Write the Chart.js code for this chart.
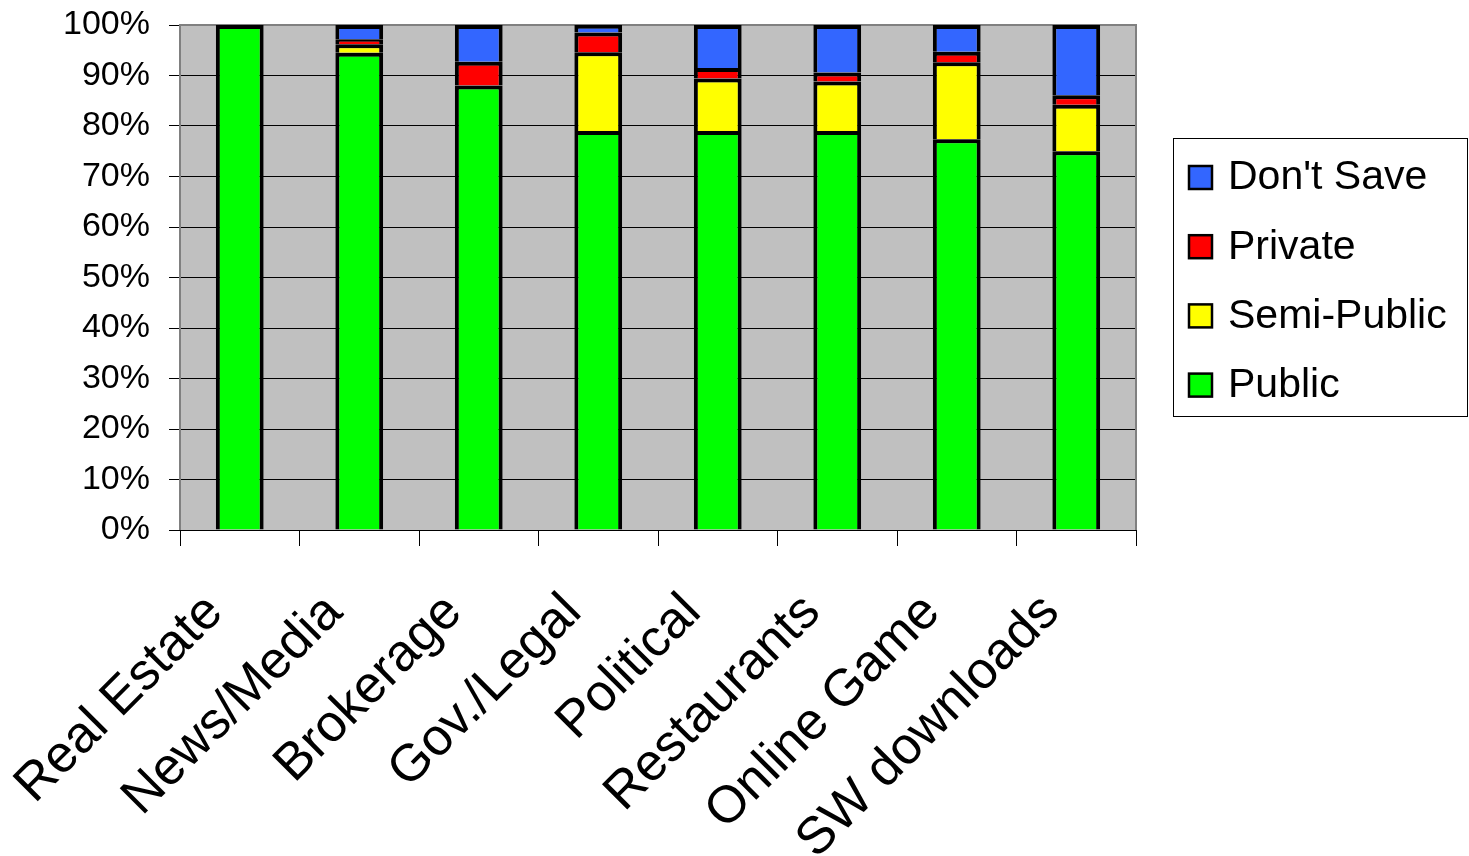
<!DOCTYPE html>
<html>
<head>
<meta charset="utf-8">
<script src="https://cdn.jsdelivr.net/npm/chart.js@4/dist/chart.umd.min.js"></script>
<style>
  html, body { margin: 0; padding: 0; background: #ffffff; }
  #wrap { width: 1469px; height: 856px; }
</style>
</head>
<body>
<div id="wrap"><canvas id="c" width="1469" height="856"></canvas></div>
<script>
// Site categories
const categories = ['Real Estate', 'News/Media', 'Brokerage', 'Gov./Legal',
                    'Political', 'Restaurants', 'Online Game', 'SW downloads'];

// Share of sites (%) per storage policy
const publicShare     = [100, 94.5, 88.0, 79.0, 79.0, 79.0, 77.4, 75.0];
const semiPublicShare = [0,    1.7,  0.0, 15.6, 10.4,  9.8, 15.2,  9.2];
const privateShare    = [0,    1.0,  4.7,  3.9,  2.1,  1.8,  2.1,  1.9];
const dontSaveShare   = [0,    2.8,  7.3,  1.5,  8.5,  9.4,  5.3, 13.9];

// Y axis ticks
const yTicks = [0, 10, 20, 30, 40, 50, 60, 70, 80, 90, 100];

const FONT = "'Liberation Sans', Arial, sans-serif";

// Grey plot background and frame
const plotFrame = {
  id: 'plotFrame',
  beforeDraw(chart) {
    const { ctx, chartArea: a } = chart;
    ctx.save();
    ctx.fillStyle = '#c0c0c0';
    ctx.fillRect(a.left, a.top, a.right - a.left, a.bottom - a.top);
    ctx.restore();
  },
  beforeDatasetsDraw(chart) {
    const { ctx, chartArea: a } = chart;
    ctx.save();
    ctx.strokeStyle = '#808080';
    ctx.lineWidth = 2;
    ctx.beginPath();
    ctx.moveTo(a.left, a.bottom);
    ctx.lineTo(a.left, a.top);
    ctx.lineTo(a.right, a.top);
    ctx.lineTo(a.right, a.bottom);
    ctx.stroke();
    ctx.strokeStyle = '#000000';
    ctx.lineWidth = 1;
    ctx.beginPath();
    ctx.moveTo(a.left, a.bottom + 0.5);
    ctx.lineTo(a.right, a.bottom + 0.5);
    ctx.stroke();
    ctx.restore();
  }
};

// Boxed legend at the right, top series first
const boxLegend = {
  id: 'boxLegend',
  afterDraw(chart) {
    const { ctx } = chart;
    const box = { x: 1173, y: 138, w: 295, h: 279 };
    ctx.save();
    ctx.fillStyle = '#ffffff';
    ctx.fillRect(box.x, box.y, box.w, box.h);
    ctx.strokeStyle = '#000000';
    ctx.lineWidth = 1;
    ctx.strokeRect(box.x + 0.5, box.y + 0.5, box.w - 1, box.h - 1);
    const items = chart.data.datasets.slice().reverse();
    ctx.font = '41px ' + FONT;
    ctx.textBaseline = 'middle';
    ctx.textAlign = 'left';
    items.forEach((ds, i) => {
      const cy = 177 + i * 69.2;
      ctx.fillStyle = ds.backgroundColor;
      ctx.fillRect(1189, cy - 11, 23, 23);
      ctx.strokeStyle = '#000000';
      ctx.lineWidth = 2.5;
      ctx.strokeRect(1189, cy - 11, 23, 23);
      ctx.fillStyle = '#000000';
      ctx.fillText(ds.label, 1228, cy + 1);
    });
    ctx.restore();
  }
};

const mkSet = (label, data, color) => ({
  label, data,
  backgroundColor: color,
  borderColor: '#000000',
  borderWidth: 4,
  barPercentage: 0.4,
  categoryPercentage: 1.0
});

new Chart(document.getElementById('c'), {
  type: 'bar',
  data: {
    labels: categories,
    datasets: [
      mkSet('Public', publicShare, '#00ff00'),
      mkSet('Semi-Public', semiPublicShare, '#ffff00'),
      mkSet('Private', privateShare, '#ff0000'),
      mkSet("Don't Save", dontSaveShare, '#3366ff')
    ]
  },
  options: {
    responsive: false,
    devicePixelRatio: 1,
    animation: false,
    layout: { padding: { top: 25, right: 333, left: 0, bottom: 0 } },
    plugins: { legend: { display: false }, tooltip: { enabled: false } },
    scales: {
      x: {
        stacked: true,
        afterFit(scale) { scale.height = 326; },
        grid: {
          offset: true, drawOnChartArea: false, drawTicks: true,
          tickLength: 16, color: '#000000', lineWidth: 1
        },
        border: { display: false },
        ticks: {
          autoSkip: false, minRotation: 45, maxRotation: 45,
          padding: 36, labelOffset: -25,
          color: '#000000', font: { family: FONT, size: 52 }
        }
      },
      y: {
        stacked: true,
        min: 0, max: 100,
        afterFit(scale) {
          scale.width = 180;
          scale.paddingTop = 0;
          scale.paddingBottom = 0;
        },
        afterBuildTicks(scale) { scale.ticks = yTicks.map(v => ({ value: v })); },
        grid: { color: '#000000', lineWidth: 1, tickLength: 11, drawTicks: true },
        border: { display: false },
        ticks: {
          padding: 19, color: '#000000',
          font: { family: FONT, size: 34 },
          callback: v => v + '%'
        }
      }
    }
  },
  plugins: [plotFrame, boxLegend]
});
</script>
</body>
</html>
